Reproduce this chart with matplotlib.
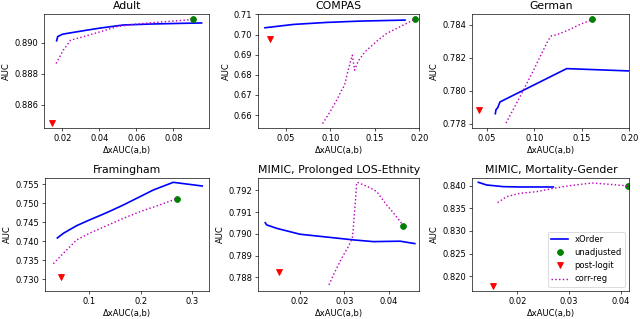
### Setup ###

# xOrder vs baselines: AUC against xAUC disparity on six datasets

import numpy as np
import matplotlib.pyplot as plt

titles = ['Adult', 'COMPAS', 'German',
          'Framingham', 'MIMIC, Prolonged LOS-Ethnity', 'MIMIC, Mortality-Gender']

# xOrder curves (blue)
xorder_x = [
    [0.0169, 0.0175, 0.0200, 0.0223, 0.0314, 0.0404, 0.0530, 0.0674, 0.0818, 0.0953],
    [0.0264, 0.0583, 0.0957, 0.1332, 0.1839],
    [0.0591, 0.0598, 0.0616, 0.0640, 0.1341, 0.1997],
    [0.0377, 0.0494, 0.0753, 0.1000, 0.1338, 0.1662, 0.1987, 0.2247, 0.2636, 0.3201],
    [0.0122, 0.0125, 0.0148, 0.0200, 0.0260, 0.0320, 0.0365, 0.0425, 0.0458],
    [0.01245, 0.01406, 0.01729, 0.02052, 0.02374, 0.02697],
]
xorder_y = [
    [0.89013, 0.89040, 0.89055, 0.89060, 0.89078, 0.89095, 0.89115, 0.89121, 0.89125, 0.89128],
    [0.70337, 0.70502, 0.70602, 0.70668, 0.70718],
    [0.77861, 0.77885, 0.77897, 0.77932, 0.78134, 0.78120],
    [0.74088, 0.74211, 0.74412, 0.74561, 0.74754, 0.74956, 0.75175, 0.75351, 0.75553, 0.75456],
    [0.79051, 0.79041, 0.79025, 0.78998, 0.78985, 0.78972, 0.78964, 0.78966, 0.78955],
    [0.84074, 0.84015, 0.83978, 0.83971, 0.83971, 0.83971],
]

# unadjusted model (green dot)
unadj_x = [0.0905, 0.1951, 0.1611, 0.2708, 0.04322, 0.04148]
unadj_y = [0.89154, 0.70768, 0.78432, 0.75123, 0.79038, 0.83993]

# post-logit adjustment (red triangle)
post_x = [0.0146, 0.0324, 0.0423, 0.0448, 0.0154, 0.01523]
post_y = [0.88481, 0.69790, 0.77881, 0.73070, 0.78826, 0.81794]

# correlation regularizer (magenta dotted)
corr_x = [
    [0.0166, 0.0205, 0.0245, 0.0314, 0.0404, 0.0494, 0.0584, 0.0728, 0.0872, 0.0905],
    [0.0912, 0.0995, 0.1070, 0.1126, 0.1137, 0.1164, 0.1190, 0.1220, 0.1246, 0.1272,
     0.1314, 0.1389, 0.1464, 0.1527, 0.1632, 0.1745, 0.1857, 0.1951],
    [0.0703, 0.0851, 0.0991, 0.1078, 0.1113, 0.1148, 0.1183, 0.1219, 0.1271, 0.1376,
     0.1481, 0.1611],
    [0.0299, 0.0494, 0.0753, 0.1000, 0.1338, 0.1662, 0.1987, 0.2312, 0.2708],
    [0.02652, 0.02787, 0.02936, 0.03086, 0.03176, 0.03199, 0.03221, 0.03251, 0.03273,
     0.03288, 0.03423, 0.03573, 0.03723, 0.03948, 0.04135, 0.04322],
    [0.01619, 0.01794, 0.02052, 0.02374, 0.02697, 0.03020, 0.03439, 0.03794, 0.04148],
]
corr_y = [
    [0.88866, 0.88952, 0.89017, 0.89039, 0.89071, 0.89104, 0.89119, 0.89134, 0.89147, 0.89154],
    [0.65578, 0.66158, 0.66738, 0.67235, 0.67285, 0.67567, 0.68065, 0.68562, 0.68977, 0.68231,
     0.68695, 0.69143, 0.69441, 0.69690, 0.70055, 0.70303, 0.70552, 0.70768],
    [0.77804, 0.77964, 0.78122, 0.78226, 0.78266, 0.78307, 0.78333, 0.78337, 0.78347, 0.78372,
     0.78402, 0.78432],
    [0.73412, 0.73684, 0.74035, 0.74211, 0.74412, 0.74605, 0.74781, 0.74930, 0.75123],
    [0.78765, 0.78826, 0.78887, 0.78941, 0.78979, 0.79025, 0.79087, 0.79163, 0.79232,
     0.79237, 0.79225, 0.79212, 0.79194, 0.79133, 0.79087, 0.79038],
    [0.83625, 0.83757, 0.83831, 0.83868, 0.83941, 0.84000, 0.84059, 0.84029, 0.83993],
]

# axis limits and ticks
xlims = [(0.0101, 0.0995), (0.0189, 0.2000), (0.0349, 0.2000),
         (0.0136, 0.3338), (0.01064, 0.04682), (0.01129, 0.04168)]
ylims = [(0.88449, 0.89186), (0.6536, 0.7102), (0.77774, 0.78465),
         (0.72693, 0.75675), (0.78737, 0.79258), (0.81676, 0.84176)]
xticks = [[0.02, 0.04, 0.06, 0.08], [0.05, 0.10, 0.15, 0.20], [0.05, 0.10, 0.15, 0.20],
          [0.1, 0.2, 0.3], [0.02, 0.03, 0.04], [0.02, 0.03, 0.04]]
yticks = [[0.886, 0.888, 0.890], [0.66, 0.67, 0.68, 0.69, 0.70, 0.71],
          [0.778, 0.780, 0.782, 0.784], [0.730, 0.735, 0.740, 0.745, 0.750, 0.755],
          [0.788, 0.789, 0.790, 0.791, 0.792], [0.820, 0.825, 0.830, 0.835, 0.840]]

#%%

### Plotting ###

# the reference looks like a bigger figure shrunk down, so use a low dpi
fig = plt.figure(figsize=(640/60, 319/60), dpi=60)
boxes = [[0.0688, 0.5987, 0.2583, 0.3574],
         [0.4036, 0.5987, 0.2516, 0.3574],
         [0.7380, 0.5987, 0.2453, 0.3574],
         [0.0703, 0.0878, 0.2567, 0.3552],
         [0.4036, 0.0878, 0.2516, 0.3552],
         [0.7380, 0.0878, 0.2453, 0.3552]]

for i in range(6):
    ax = fig.add_axes(boxes[i])
    ax.plot(xorder_x[i], xorder_y[i], 'b-', linewidth=2, label='xOrder')
    ax.plot(unadj_x[i], unadj_y[i], 'go', markersize=7, label='unadjusted')
    ax.plot(post_x[i], post_y[i], 'rv', markersize=7, label='post-logit')
    ax.plot(corr_x[i], corr_y[i], 'm:', linewidth=1.7, label='corr-reg')
    ax.set_xticks(xticks[i])
    ax.set_yticks(yticks[i])
    ax.set_xlim(xlims[i])
    ax.set_ylim(ylims[i])
    ax.set_title(titles[i], fontsize=13)
    ax.set_xlabel('ΔxAUC(a,b)')
    ax.set_ylabel('AUC')
    if i == 5:
        ax.legend(loc='lower right')

plt.savefig('out.png')
